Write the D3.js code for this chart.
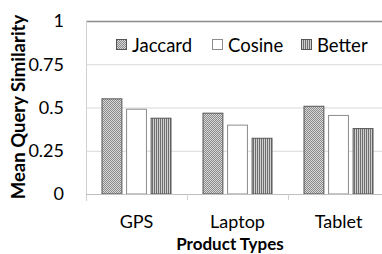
<!DOCTYPE html>
<html>
<head>
<meta charset="utf-8">
<script src="https://cdn.jsdelivr.net/npm/d3@7"></script>
<style>
  body { margin: 0; background: #fff; }
  svg { display: block; font-family: Lato, "Open Sans", sans-serif; }
</style>
</head>
<body>
<svg id="chart" width="382" height="254"></svg>
<script>
document.addEventListener('DOMContentLoaded', function () {
    const categories = ['GPS', 'Laptop', 'Tablet'];
    const seriesNames = ['Jaccard', 'Cosine', 'Better'];
    const jaccard = [0.553, 0.470, 0.510];
    const cosine = [0.493, 0.401, 0.457];
    const better = [0.441, 0.325, 0.381];
    const yTicks = [0, 0.25, 0.5, 0.75, 1];
    const yTickLabels = ['0', '0.25', '0.5', '0.75', '1'];

    const values = [jaccard, cosine, better];
    const svg = d3.select('#chart');

    const defs = svg.append('defs');
    const checker = defs.append('pattern')
        .attr('id', 'checker')
        .attr('width', 2).attr('height', 2)
        .attr('patternUnits', 'userSpaceOnUse');
    checker.append('rect').attr('width', 2).attr('height', 2).attr('fill', '#d8d8d8');
    checker.append('rect').attr('width', 1).attr('height', 1).attr('fill', '#8a8a8a');
    checker.append('rect').attr('x', 1).attr('y', 1).attr('width', 1).attr('height', 1).attr('fill', '#8a8a8a');

    const stripes = defs.append('pattern')
        .attr('id', 'stripes')
        .attr('width', 2).attr('height', 2)
        .attr('patternUnits', 'userSpaceOnUse');
    stripes.append('rect').attr('width', 2).attr('height', 2).attr('fill', '#d0d0d0');
    stripes.append('rect').attr('width', 1).attr('height', 2).attr('fill', '#6e6e6e');

    const fills = ['url(#checker)', '#ffffff', 'url(#stripes)'];
    const strokes = ['#555', '#8c8c8c', '#555'];

    const x0 = d3.scaleBand().domain(categories).range([86, 389]);
    const x1 = d3.scaleBand().domain(seriesNames)
        .range([15.5, x0.bandwidth() - 15.5])
        .paddingInner(0.15);
    const y = d3.scaleLinear().domain([0, 1]).range([194, 21]);

    // gridlines
    svg.append('g').selectAll('line')
        .data(yTicks.filter(t => t > 0 && t < 1))
        .join('line')
        .attr('x1', 86).attr('x2', 382)
        .attr('y1', d => y(d) + 0.5).attr('y2', d => y(d) + 0.5)
        .attr('stroke', '#d9d9d9').attr('stroke-width', 1);

    // top line
    svg.append('line')
        .attr('x1', 86).attr('x2', 382)
        .attr('y1', y(1) + 0.5).attr('y2', y(1) + 0.5)
        .attr('stroke', '#8c8c8c').attr('stroke-width', 1.5);

    // left border
    svg.append('line')
        .attr('x1', 86.5).attr('x2', 86.5)
        .attr('y1', y(1)).attr('y2', 201)
        .attr('stroke', '#d0d0d0');

    // bars
    const groups = svg.append('g').selectAll('g')
        .data(categories)
        .join('g')
        .attr('transform', d => `translate(${x0(d)},0)`);

    groups.selectAll('rect')
        .data((c, ci) => seriesNames.map((s, si) => ({ s, si, v: values[si][ci] })))
        .join('rect')
        .attr('x', d => x1(d.s) + 0.5)
        .attr('y', d => y(d.v) + 0.5)
        .attr('width', x1.bandwidth() - 1)
        .attr('height', d => y(0) - y(d.v) - 0.5)
        .attr('fill', d => fills[d.si])
        .attr('stroke', d => strokes[d.si])
        .attr('stroke-width', 1);

    // x axis
    const xAxis = svg.append('g').attr('transform', 'translate(0,194)');
    xAxis.append('line')
        .attr('x1', 86).attr('x2', 382).attr('y1', 0.5).attr('y2', 0.5)
        .attr('stroke', '#bfbfbf');
    xAxis.selectAll('.tick')
        .data(categories.slice(1))
        .join('line')
        .attr('x1', d => x0(d) + 0.5).attr('x2', d => x0(d) + 0.5)
        .attr('y1', 0).attr('y2', 6)
        .attr('stroke', '#d0d0d0');
    xAxis.selectAll('text')
        .data(categories)
        .join('text')
        .attr('x', d => x0(d) + x0.bandwidth() / 2)
        .attr('y', 34)
        .attr('text-anchor', 'middle')
        .attr('font-size', 18)
        .attr('fill', '#000')
        .text(d => d);

    // y axis labels
    svg.append('g').selectAll('text')
        .data(yTicks)
        .join('text')
        .attr('x', 64)
        .attr('y', d => y(d))
        .attr('dy', '0.35em')
        .attr('text-anchor', 'end')
        .attr('font-size', 18)
        .attr('fill', '#000')
        .text((d, i) => yTickLabels[i]);

    // axis titles
    svg.append('text')
        .attr('transform', 'translate(25,107) rotate(-90)')
        .attr('text-anchor', 'middle')
        .attr('font-size', 18.5)
        .attr('font-weight', 'bold')
        .text('Mean Query Similarity');

    svg.append('text')
        .attr('x', 230)
        .attr('y', 250)
        .attr('text-anchor', 'middle')
        .attr('font-size', 17)
        .attr('font-weight', 'bold')
        .text('Product Types');

    // legend
    const legendX = [116, 212, 301];
    const legend = svg.append('g').selectAll('g')
        .data(seriesNames)
        .join('g')
        .attr('transform', (d, i) => `translate(${legendX[i]},39)`);
    legend.append('rect')
        .attr('x', 0.5).attr('y', 0.5)
        .attr('width', 10).attr('height', 10)
        .attr('fill', (d, i) => fills[i])
        .attr('stroke', (d, i) => strokes[i]);
    legend.append('text')
        .attr('x', 16)
        .attr('y', 12.5)
        .attr('font-size', 18.5)
        .attr('fill', '#000')
        .text(d => d);
});
</script>
</body>
</html>
